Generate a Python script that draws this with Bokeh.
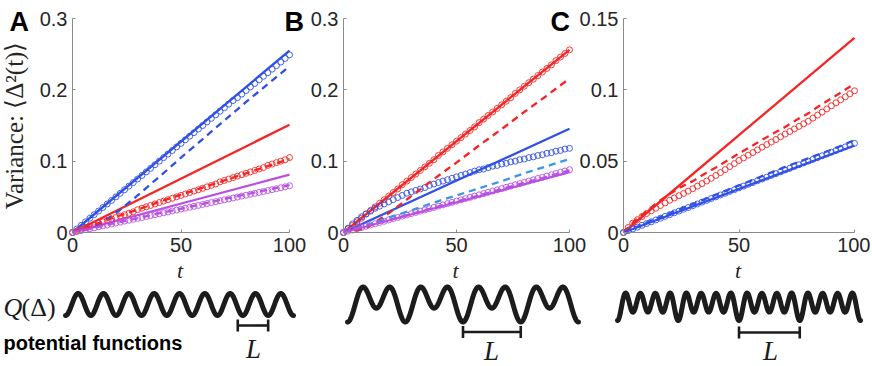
import numpy as np
from bokeh.plotting import figure
from bokeh.models import Range1d, FixedTicker, Label
from bokeh.layouts import row
from bokeh.embed import file_html
from bokeh.resources import INLINE

# ---------------- data ----------------
T_CIRC = list(range(0, 101, 2))
T_DASH = list(range(0, 101, 10))
T_DASH_C = list(range(0, 101, 5))
T_SOLID = [0, 100]

X_TICKS = [0, 50, 100]
X_TICK_LABELS = ["0", "50", "100"]
Y_TICKS_AB = [0, 0.1, 0.2, 0.3]
Y_TICK_LABELS_AB = ["0", "0.1", "0.2", "0.3"]
Y_TICKS_C = [0, 0.05, 0.1, 0.15]
Y_TICK_LABELS_C = ["0", "0.05", "0.1", "0.15"]

# Panel A
A_BLUE_SOLID = [0, 0.255]
A_RED_SOLID = [0, 0.151]
A_PURPLE_SOLID = [0, 0.081]
A_BLUE_DASH = [0, 0.008, 0.027, 0.052, 0.078, 0.105, 0.131, 0.157, 0.183, 0.208, 0.233]
A_RED_DASH = [0, 0.011, 0.022, 0.032, 0.043, 0.053, 0.063, 0.073, 0.083, 0.093, 0.103]
A_PURPLE_DASH = [0, 0.0068, 0.0135, 0.020, 0.027, 0.0335, 0.040, 0.047, 0.0535, 0.060, 0.0665]
A_BLUE_CIRC = [0.000, 0.005, 0.010, 0.015, 0.020, 0.025, 0.030, 0.035, 0.040, 0.045,
               0.050, 0.055, 0.060, 0.065, 0.070, 0.075, 0.080, 0.085, 0.090, 0.095,
               0.100, 0.105, 0.110, 0.115, 0.120, 0.125, 0.130, 0.135, 0.140, 0.145,
               0.150, 0.155, 0.160, 0.165, 0.170, 0.175, 0.180, 0.185, 0.189, 0.194,
               0.199, 0.204, 0.209, 0.214, 0.219, 0.224, 0.229, 0.234, 0.239, 0.244, 0.249]
A_RED_CIRC = [0.000, 0.002, 0.0045, 0.0065, 0.0088, 0.011, 0.013, 0.015, 0.017, 0.019,
              0.021, 0.023, 0.025, 0.027, 0.029, 0.032, 0.034, 0.036, 0.038, 0.040,
              0.042, 0.044, 0.046, 0.048, 0.050, 0.052, 0.054, 0.056, 0.058, 0.060,
              0.062, 0.064, 0.066, 0.068, 0.071, 0.073, 0.075, 0.077, 0.079, 0.081,
              0.083, 0.085, 0.087, 0.089, 0.091, 0.094, 0.096, 0.098, 0.100, 0.102, 0.105]
A_PURPLE_CIRC = [0.000, 0.0013, 0.0026, 0.004, 0.0053, 0.0066, 0.008, 0.0093, 0.0106, 0.012,
                 0.0133, 0.0146, 0.016, 0.0172, 0.0185, 0.0198, 0.0211, 0.0224, 0.0237, 0.025,
                 0.0263, 0.0276, 0.0289, 0.0302, 0.0315, 0.0328, 0.0341, 0.0354, 0.0367, 0.038,
                 0.0393, 0.0406, 0.0419, 0.0432, 0.0445, 0.0458, 0.0471, 0.0484, 0.0497, 0.051,
                 0.0523, 0.0536, 0.0549, 0.0562, 0.0575, 0.0588, 0.0601, 0.0614, 0.0627, 0.064, 0.0655]

# Panel B
B_RED_SOLID = [0, 0.256]
B_BLUE_SOLID = [0, 0.1455]
B_PURPLE_SOLID = [0, 0.0845]
B_RED_DASH = [0, 0.006, 0.027, 0.051, 0.075, 0.098, 0.122, 0.145, 0.169, 0.192, 0.216]
B_LBLUE_DASH = [0, 0.010, 0.021, 0.031, 0.042, 0.052, 0.062, 0.072, 0.083, 0.093, 0.103]
B_PURPLE_DASH = [0, 0.0087, 0.0174, 0.026, 0.0348, 0.0435, 0.052, 0.061, 0.0696, 0.078, 0.087]
B_RED_CIRC = [0.000, 0.005, 0.010, 0.015, 0.020, 0.026, 0.031, 0.036, 0.041, 0.046,
              0.051, 0.056, 0.061, 0.067, 0.072, 0.077, 0.082, 0.087, 0.092, 0.097,
              0.102, 0.108, 0.113, 0.118, 0.123, 0.128, 0.133, 0.138, 0.143, 0.148,
              0.154, 0.159, 0.164, 0.169, 0.174, 0.179, 0.184, 0.189, 0.195, 0.200,
              0.205, 0.210, 0.215, 0.220, 0.225, 0.230, 0.235, 0.241, 0.246, 0.251, 0.256]
B_BLUE_CIRC = [0.000, 0.006, 0.012, 0.017, 0.022, 0.026, 0.030, 0.034, 0.037, 0.040,
               0.043, 0.046, 0.049, 0.052, 0.055, 0.057, 0.059, 0.061, 0.063, 0.066,
               0.068, 0.070, 0.072, 0.074, 0.076, 0.078, 0.080, 0.082, 0.084, 0.086,
               0.088, 0.089, 0.091, 0.093, 0.094, 0.096, 0.097, 0.099, 0.100, 0.102,
               0.103, 0.105, 0.106, 0.108, 0.109, 0.111, 0.112, 0.114, 0.115, 0.117, 0.118]
B_PURPLE_CIRC = [0.000, 0.0018, 0.0035, 0.0053, 0.007, 0.0088, 0.0106, 0.0123, 0.0141, 0.0158,
                 0.0176, 0.0194, 0.0211, 0.0229, 0.0246, 0.0264, 0.0282, 0.0299, 0.0317, 0.0334,
                 0.0352, 0.037, 0.0387, 0.0405, 0.0422, 0.044, 0.0458, 0.0475, 0.0493, 0.051,
                 0.0528, 0.0546, 0.0563, 0.0581, 0.0598, 0.0616, 0.0634, 0.0651, 0.0669, 0.0686,
                 0.0704, 0.0722, 0.0739, 0.0757, 0.0774, 0.0792, 0.081, 0.0827, 0.0845, 0.0862, 0.088]

# Panel C
C_RED_SOLID = [0, 0.1365]
C_BLUE_SOLID = [0, 0.061]
C_RED_DASH = [0, 0.0085, 0.015, 0.0215, 0.027, 0.032, 0.036, 0.041, 0.0455, 0.0505, 0.0555,
              0.060, 0.065, 0.0695, 0.074, 0.079, 0.0835, 0.089, 0.094, 0.099, 0.1044]
C_BLUE_DASH = [0, 0.007, 0.0135, 0.020, 0.0265, 0.033, 0.0395, 0.046, 0.052, 0.058, 0.0647]
C_RED_CIRC = [0.000, 0.0035, 0.0065, 0.009, 0.0112, 0.0133, 0.0152, 0.017, 0.0189, 0.0207,
              0.0226, 0.0242, 0.0258, 0.0274, 0.029, 0.0307, 0.0325, 0.0343, 0.0361, 0.038,
              0.040, 0.042, 0.0441, 0.0462, 0.0483, 0.0505, 0.0523, 0.0542, 0.056, 0.0579,
              0.0598, 0.0616, 0.0634, 0.0652, 0.0671, 0.069, 0.0708, 0.0726, 0.0744, 0.0762,
              0.078, 0.0802, 0.0823, 0.0844, 0.0866, 0.0888, 0.0909, 0.093, 0.0951, 0.0972, 0.0993]
C_BLUE_CIRC = [0.000, 0.0013, 0.0025, 0.0038, 0.005, 0.0063, 0.0075, 0.0088, 0.010, 0.0113,
               0.0125, 0.0138, 0.015, 0.0163, 0.0175, 0.0188, 0.020, 0.0213, 0.0225, 0.0238,
               0.025, 0.0263, 0.0275, 0.0288, 0.030, 0.0313, 0.0325, 0.0338, 0.035, 0.0363,
               0.0375, 0.0388, 0.040, 0.0413, 0.0425, 0.0438, 0.045, 0.0463, 0.0475, 0.0488,
               0.050, 0.0513, 0.0525, 0.0538, 0.055, 0.0563, 0.0575, 0.0588, 0.060, 0.0613, 0.0625]

# Potential functions: periods and harmonic weights (k, w): Q(u) = -sum w cos(2 pi k u)
POT_PERIODS = [9, 4, 4]
POT_WEIGHTS = [[(1, 1.0)],
               [(2, 1.0), (1, 0.5)],
               [(4, 1.0), (1, 0.2), (2, 0.2), (3, 0.2)]]
POT_BRACKET = [(6.8, 8.0), (2.0, 3.0), (2.0, 3.0)]

PANEL_LETTERS = ["A", "B", "C"]
Y_LABEL = "Variance: \u27e8\u0394\u00b2(t)\u27e9"
X_LABEL = "t"

# ---------------- style / layout ----------------
BLUE = "#3050e6"
LBLUE = "#3d95e6"
RED = "#f52525"
PURPLE = "#b94fe3"
AXIS_GRAY = "#8a8a8a"
TXT = "#262626"
INK = "#1c1c1c"
SANS = "Liberation Sans"
SERIF = "Liberation Serif"

FIG_H = 366
AX_Y_TOP, AX_Y_ZERO = 18, 232
LW = 2.3
DASH = "7 5"
BASE_FIX = 6   # rendered alphabetic baselines sit this much lower than asked


def lab(p, x, y, text, font, size, style="normal", align="left", baseline="alphabetic",
        color=TXT, angle=0):
    if baseline == "alphabetic":
        y = y - BASE_FIX
    p.add_layout(Label(x=x, y=y, x_range_name="px", y_range_name="py", text=text,
                       text_font=font, text_font_size=size, text_font_style=style,
                       text_align=align, text_baseline=baseline, text_color=color,
                       angle=angle))


def panel(left, width, ax_x0, ax_x1, ymax, yticks, ylabels, letter, letter_x,
          pot_i, pot_x0, pot_x1, peak_y, valley_y, bracket_y, l_x, l_y):
    sx = (ax_x1 - ax_x0) / 100.0
    sy = (AX_Y_ZERO - AX_Y_TOP) / ymax

    def tx(px):
        return (px - ax_x0) / sx

    def vy(py):
        return (AX_Y_ZERO - py) / sy

    p = figure(width=width, height=FIG_H,
               x_range=Range1d(tx(left), tx(left + width)),
               y_range=Range1d(vy(FIG_H), vy(0)),
               output_backend="svg", toolbar_location=None,
               min_border_left=0, min_border_right=0, min_border_top=0, min_border_bottom=0)
    p.background_fill_color = None
    p.border_fill_color = None
    p.outline_line_color = None
    p.xgrid.visible = False
    p.ygrid.visible = False
    # pixel-coordinate ranges for annotations
    p.extra_x_ranges = {"px": Range1d(left, left + width)}
    p.extra_y_ranges = {"py": Range1d(FIG_H, 0)}
    for ax, ticks, labels, bnd in ((p.xaxis[0], X_TICKS, X_TICK_LABELS, (0, 100)),
                                   (p.yaxis[0], yticks, ylabels, (0, ymax))):
        ax.ticker = FixedTicker(ticks=ticks)
        ax.major_label_overrides = {t: l for t, l in zip(ticks, labels)}
        ax.bounds = bnd
        ax.fixed_location = 0
        ax.axis_line_color = AXIS_GRAY
        ax.axis_line_width = 1
        ax.major_tick_line_color = AXIS_GRAY
        ax.minor_tick_line_color = None
        ax.major_tick_in = 3
        ax.major_tick_out = 0
        ax.major_label_text_font = SANS
        ax.major_label_text_font_size = "20px"
        ax.major_label_text_color = TXT
        ax.major_label_standoff = 5

    lab(p, letter_x, 27, letter, SANS, "27px", "bold", color="#000000")
    lab(p, (ax_x0 + ax_x1) / 2 - 1, 276, X_LABEL, SERIF, "22px", "italic", align="center")

    # potential function drawn on its own scales
    n = POT_PERIODS[pot_i]
    u = np.linspace(0, n, 1200)
    q = np.zeros_like(u)
    for k, w in POT_WEIGHTS[pot_i]:
        q -= w * np.cos(2 * np.pi * k * u)
    ppu = (pot_x1 - pot_x0) / n
    qmax, qmin = q.max(), q.min()
    qpp = (qmax - qmin) / (valley_y - peak_y)
    p.extra_x_ranges["u"] = Range1d((left - pot_x0) / ppu, (left + width - pot_x0) / ppu)
    p.extra_y_ranges["q"] = Range1d(qmax - (FIG_H - peak_y) * qpp, qmax + peak_y * qpp)
    p.line(u, q, x_range_name="u", y_range_name="q", line_color=INK, line_width=5,
           line_cap="round", line_join="round")
    ua, ub = POT_BRACKET[pot_i]
    p.line([ua, ub], [bracket_y, bracket_y], x_range_name="u", y_range_name="py",
           line_color=INK, line_width=2.6)
    for ue in (ua, ub):
        p.line([ue, ue], [bracket_y - 6, bracket_y + 6], x_range_name="u", y_range_name="py",
               line_color=INK, line_width=2.6)
    lab(p, l_x, l_y, "L", SERIF, "27px", "italic", align="center", color=INK)
    return p


def solid(p, y, c):
    p.line(T_SOLID, y, line_color=c, line_width=LW)


def dashed(p, t, y, c):
    p.line(t, y, line_color=c, line_width=LW, line_dash=DASH)


def circles(p, y, c):
    p.scatter(T_CIRC, y, marker="circle", size=6, fill_color=None, line_color=c, line_width=0.9)


# ---- panel A ----
pA = panel(0, 312, 72, 289, 0.3, Y_TICKS_AB, Y_TICK_LABELS_AB, PANEL_LETTERS[0], 9,
           0, 65, 293, 293, 315, 325, 253, 354)
solid(pA, A_BLUE_SOLID, BLUE)
solid(pA, A_RED_SOLID, RED)
solid(pA, A_PURPLE_SOLID, PURPLE)
circles(pA, A_BLUE_CIRC, BLUE)
circles(pA, A_RED_CIRC, RED)
circles(pA, A_PURPLE_CIRC, PURPLE)
dashed(pA, T_DASH, A_BLUE_DASH, BLUE)
dashed(pA, T_DASH, A_RED_DASH, RED)
dashed(pA, T_DASH, A_PURPLE_DASH, PURPLE)
lab(pA, 14, 125, Y_LABEL, SERIF, "25px", align="center", baseline="middle", angle=np.pi / 2)
lab(pA, 3, 313, "Q", SERIF, "26px", "italic", color=INK)
lab(pA, 21, 313, "(\u0394)", SERIF, "26px", color=INK)
lab(pA, 3, 348, "potential functions", SANS, "20px", "bold", color="#000000")

# ---- panel B ----
pB = panel(282, 310, 343, 569, 0.3, Y_TICKS_AB, Y_TICK_LABELS_AB, PANEL_LETTERS[1], 284,
           1, 347, 578, 286.5, 321.5, 331.5, 491, 356)
solid(pB, B_RED_SOLID, RED)
solid(pB, B_BLUE_SOLID, BLUE)
solid(pB, B_PURPLE_SOLID, PURPLE)
circles(pB, B_RED_CIRC, RED)
circles(pB, B_BLUE_CIRC, BLUE)
circles(pB, B_PURPLE_CIRC, PURPLE)
dashed(pB, T_DASH, B_RED_DASH, RED)
dashed(pB, T_DASH, B_LBLUE_DASH, LBLUE)
dashed(pB, T_DASH, B_PURPLE_DASH, PURPLE)

# ---- panel C ----
pC = panel(548, 322, 623, 854, 0.15, Y_TICKS_C, Y_TICK_LABELS_C, PANEL_LETTERS[2], 550,
           2, 617, 860, 292.5, 320, 332, 770, 356)
solid(pC, C_RED_SOLID, RED)
solid(pC, C_BLUE_SOLID, BLUE)
circles(pC, C_RED_CIRC, RED)
circles(pC, C_BLUE_CIRC, BLUE)
dashed(pC, T_DASH_C, C_RED_DASH, RED)
dashed(pC, T_DASH, C_BLUE_DASH, BLUE)

pB.margin = (0, 0, 0, -30)
pC.margin = (0, 0, 0, -44)
root = row(pA, pB, pC)

open("out.html", "w").write(file_html(root, INLINE, "Variance"))
